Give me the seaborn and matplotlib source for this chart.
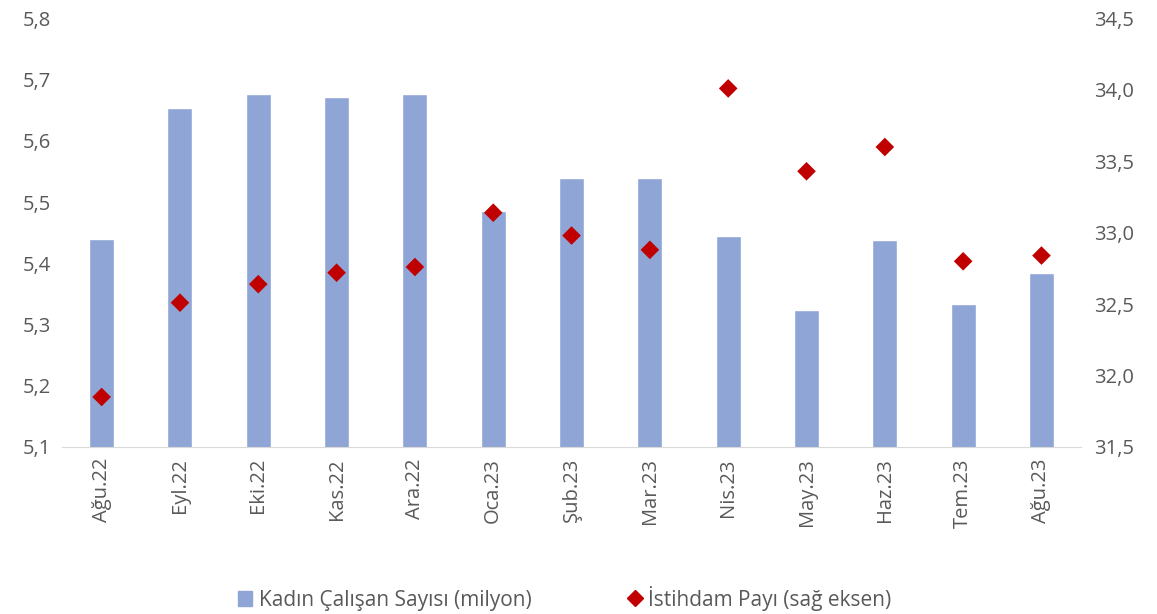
import pandas as pd
import numpy as np
import matplotlib
matplotlib.use("Agg")
import matplotlib.pyplot as plt
import seaborn as sns
from matplotlib.lines import Line2D
from matplotlib.patches import Patch

months = ['Ağu.22', 'Eyl.22', 'Eki.22', 'Kas.22', 'Ara.22', 'Oca.23', 'Şub.23',
          'Mar.23', 'Nis.23', 'May.23', 'Haz.23', 'Tem.23', 'Ağu.23']
workers = [5.439, 5.653, 5.676, 5.671, 5.676, 5.485, 5.539,
           5.540, 5.444, 5.324, 5.438, 5.333, 5.384]
share = [31.85, 32.51, 32.64, 32.72, 32.76, 33.14, 32.98,
         32.88, 34.01, 33.43, 33.60, 32.80, 32.84]

df = pd.DataFrame({'month': months, 'workers': workers, 'share': share})

sns.set_style('white')
plt.rcParams['font.family'] = ['Open Sans', 'DejaVu Sans']

fig, ax = plt.subplots(figsize=(11.57, 6.14), dpi=100)
fig.subplots_adjust(left=0.054, right=0.934, top=0.97, bottom=0.272)

sns.barplot(data=df, x='month', y='workers', color='#8FA5D6', saturation=1,
            width=0.32, ax=ax)
ax.set_ylim(5.1, 5.8)
ax.set_yticks(np.arange(5.1, 5.81, 0.1))
ax.set_yticklabels([f'{v:.1f}'.replace('.', ',') for v in np.arange(5.1, 5.81, 0.1)])
ax.set_xlabel('')
ax.set_ylabel('')
ax.set_xlim(-0.5, len(months) - 0.5)
ax.tick_params(axis='y', length=0, labelsize=14.5, colors='#595959', pad=8)
ax.tick_params(axis='x', length=0, labelsize=14.5, colors='#595959', rotation=90, pad=8)

# category separator ticks
ax.set_xticks(np.arange(-0.5, len(months), 1), minor=True)
ax.tick_params(axis='x', which='minor', length=8, color='#D9D9D9', width=1)

for s in ['top', 'left', 'right']:
    ax.spines[s].set_visible(False)
ax.spines['bottom'].set_color('#D9D9D9')

ax2 = ax.twinx()
sns.scatterplot(data=df, x='month', y='share', marker='D', color='#C00000',
                s=90, edgecolor='none', ax=ax2, zorder=5)
ax2.set_ylim(31.5, 34.5)
ticks2 = np.arange(31.5, 34.51, 0.5)
ax2.set_yticks(ticks2)
ax2.set_yticklabels([f'{v:.1f}'.replace('.', ',') for v in ticks2])
ax2.set_ylabel('')
ax2.tick_params(axis='y', length=0, labelsize=14.5, colors='#595959', pad=10)
for s in ['top', 'left', 'right', 'bottom']:
    ax2.spines[s].set_visible(False)

handles = [Patch(color='#8FA5D6', label='Kadın Çalışan Sayısı (milyon)'),
           Line2D([], [], marker='D', color='#C00000', linestyle='none',
                  markersize=8, label='İstihdam Payı (sağ eksen)')]
fig.legend(handles=handles, loc='lower center', ncol=2, frameon=False,
           fontsize=15, labelcolor='#595959', bbox_to_anchor=(0.488, -0.025),
           columnspacing=4.6, handlelength=0.7, handletextpad=0.3)

plt.savefig('out.png', dpi=100)
